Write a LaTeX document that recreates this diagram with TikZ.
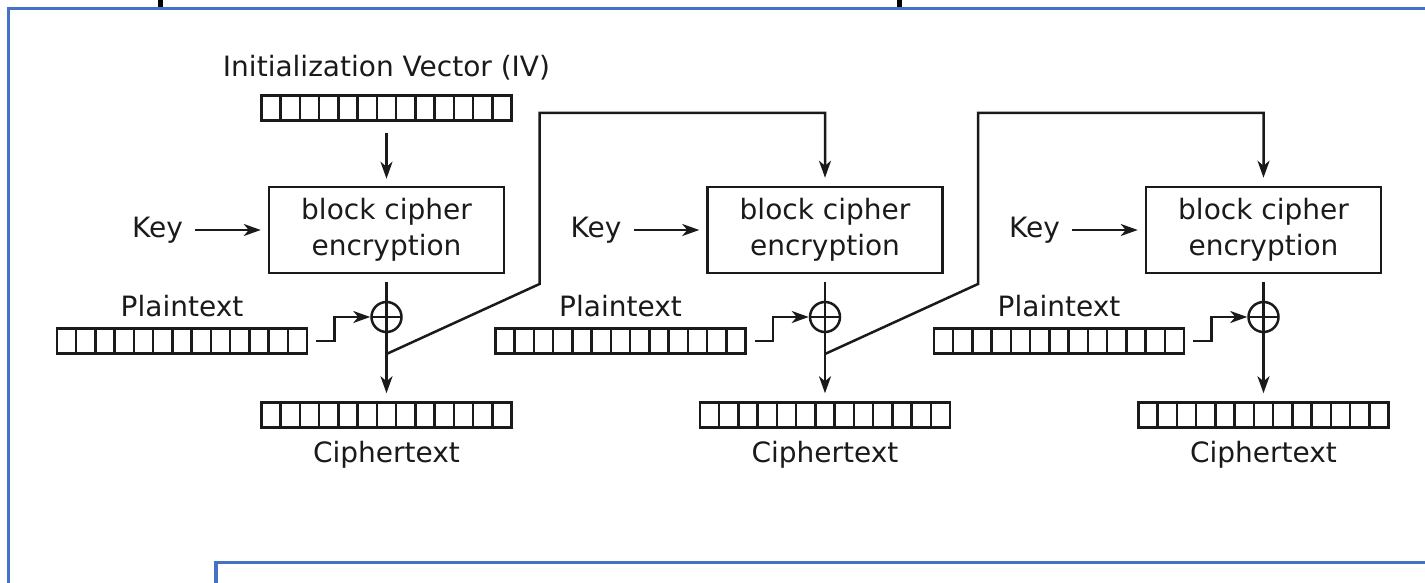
\documentclass[tikz,border=0pt]{standalone}
\usepackage{fontspec}
\setmainfont{DejaVu Sans}
\usetikzlibrary{arrows.meta}
\definecolor{frameblue}{HTML}{4472C4}
\definecolor{ink}{HTML}{1A1A1A}
\begin{document}
\begin{tikzpicture}[x=1pt,y=-1pt,line width=2.5pt,
  font=\fontsize{28}{36}\selectfont,
  every node/.style={text=ink},
  arr/.style={-{Stealth[length=17pt,width=12pt,inset=5pt]}},
  txt/.style={inner sep=0pt},
  reg/.style={draw=ink,minimum width=250pt,minimum height=25pt,inner sep=0pt,
    path picture={\foreach \k in {1,...,12}{
      \draw[ink] ([xshift=\k*250pt/13]path picture bounding box.south west) --
            ([xshift=\k*250pt/13]path picture bounding box.north west);}}},
  cipherbox/.style={draw=ink,minimum width=235pt,minimum height=86pt,inner sep=0pt,align=center},
  xor/.style={circle,draw=ink,minimum size=30pt,inner sep=0pt,
    path picture={
      \draw[ink] (path picture bounding box.west) -- (path picture bounding box.east);
      \draw[ink] (path picture bounding box.north) -- (path picture bounding box.south);}},
  frame/.style={frameblue,line width=3.5pt}]
\useasboundingbox (0,0) rectangle (1425,583);
\clip (0,0) rectangle (1425,583);

% slide frame and cut-off marks above it
\fill (158,-5) rectangle (163,8);
\fill (897,-5) rectangle (902,8);
\draw[frame] (8.5,600) -- (8.5,8.5) -- (1440,8.5);
\draw[frame] (216,600) -- (216,562.5) -- (1440,562.5);

\begin{scope}[draw=ink]
% initialization vector
\node[txt,anchor=base] (ivl) at (386.5,77) {Initialization Vector (IV)};
\node[reg] (iv) at (386.5,108) {};

% three CBC encryption stages
\foreach \i/\cx in {1/386.5,2/825,3/1263.5}{
  \node[cipherbox] (enc\i) at (\cx,230) {block cipher\\encryption};
  \node[xor] (xor\i) at (\cx,317) {};
  \node[txt,anchor=base] (key\i) at (\cx-229,237) {Key};
  \node[reg] (pt\i) at (\cx-204.5,341) {};
  \node[txt,anchor=base] (ptl\i) at (\cx-204.5,316) {Plaintext};
  \node[reg] (ct\i) at (\cx,415) {};
  \node[txt,anchor=base] (ctl\i) at (\cx,462) {Ciphertext};
  \coordinate (tap\i) at (\cx,354);
  \draw[arr] ([xshift=11pt]key\i.east |- enc\i.west) -- ([xshift=-7pt]enc\i.west);
  \draw ([yshift=-8pt]enc\i.south) -- (xor\i.north);
  \draw[arr] (xor\i.south) -- ([yshift=8pt]ct\i.north);
  \draw[arr] ([xshift=8pt]pt\i.east) -- ++(18,0) |- (xor\i.west);
}

\draw[arr] ([yshift=-11pt]iv.south) -- ([yshift=7pt]enc1.north);

% ciphertext fed forward into the next stage
\draw[arr] (tap1) -- ++(153,-70) -- ++(0,-171) -| ([yshift=8pt]enc2.north);
\draw[arr] (tap2) -- ++(153,-70) -- ++(0,-171) -| ([yshift=8pt]enc3.north);
\end{scope}
\end{tikzpicture}
\end{document}
